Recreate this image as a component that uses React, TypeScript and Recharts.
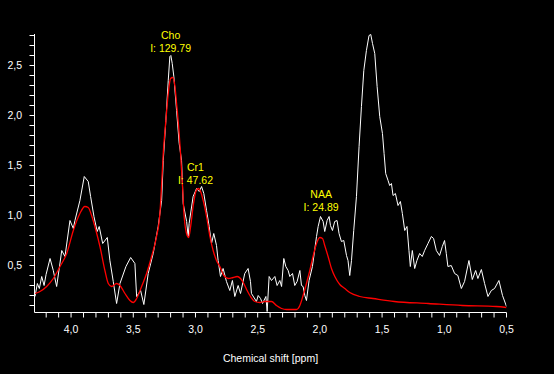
import React from 'react';
import { LineChart, Line, XAxis, YAxis, ReferenceDot } from 'recharts';

const spectrumPpm = [
  4.29, 4.271, 4.255, 4.236, 4.217, 4.201, 4.169, 4.143, 4.116, 4.075, 4.049, 4.009, 3.982, 3.969, 3.929, 3.894,
  3.862, 3.843, 3.816, 3.79, 3.774, 3.746, 3.709, 3.688, 3.661, 3.634, 3.607, 3.559, 3.521, 3.487, 3.473, 3.441,
  3.415, 3.38, 3.34, 3.3, 3.272, 3.259, 3.238, 3.219, 3.206, 3.198, 3.187, 3.174, 3.152, 3.131, 3.112, 3.099,
  3.071, 3.059, 3.051, 3.019, 2.991, 2.97, 2.951, 2.933, 2.911, 2.89, 2.871, 2.853, 2.831, 2.818, 2.799, 2.778,
  2.751, 2.724, 2.703, 2.684, 2.657, 2.638, 2.604, 2.577, 2.558, 2.55, 2.51, 2.496, 2.477, 2.461, 2.434, 2.424,
  2.408, 2.389, 2.362, 2.344, 2.322, 2.308, 2.29, 2.274, 2.255, 2.242, 2.22, 2.202, 2.183, 2.161, 2.148, 2.135,
  2.121, 2.108, 2.087, 2.06, 2.027, 2.014, 1.995, 1.974, 1.961, 1.942, 1.926, 1.915, 1.899, 1.881, 1.862, 1.846,
  1.827, 1.808, 1.786, 1.774, 1.76, 1.746, 1.728, 1.706, 1.685, 1.666, 1.647, 1.626, 1.605, 1.591, 1.577, 1.559,
  1.54, 1.519, 1.497, 1.484, 1.471, 1.452, 1.439, 1.425, 1.412, 1.393, 1.372, 1.353, 1.337, 1.318, 1.3, 1.284,
  1.273, 1.257, 1.238, 1.22, 1.198, 1.177, 1.158, 1.131, 1.104, 1.086, 1.064, 1.038, 1.016, 0.998, 0.984, 0.971,
  0.944, 0.917, 0.891, 0.863, 0.837, 0.802, 0.775, 0.748, 0.73, 0.702, 0.676, 0.649, 0.622, 0.596, 0.561, 0.532,
  0.5,
];
const spectrumIntensity = [
  0.19, 0.32, 0.27, 0.39, 0.3, 0.41, 0.57, 0.45, 0.29, 0.65, 0.59, 0.95, 0.87, 0.95, 1.15, 1.39,
  1.34, 1.19, 0.99, 0.84, 0.89, 0.72, 0.78, 0.55, 0.34, 0.12, 0.32, 0.49, 0.58, 0.52, 0.19, 0.25,
  0.11, 0.42, 0.62, 0.89, 1.15, 1.55, 1.95, 2.35, 2.59, 2.6, 2.52, 2.39, 2.05, 1.72, 1.55, 1.12,
  0.94, 0.79, 0.92, 1.19, 1.27, 1.24, 1.29, 1.22, 1.05, 0.89, 0.72, 0.82, 0.7, 0.55, 0.39, 0.47,
  0.34, 0.25, 0.35, 0.19, 0.3, 0.22, 0.42, 0.47, 0.34, 0.22, 0.14, 0.2, 0.17, 0.12, 0.19, 0.04,
  0.39, 0.35, 0.39, 0.3, 0.35, 0.29, 0.57, 0.49, 0.45, 0.39, 0.42, 0.3, 0.34, 0.45, 0.3, 0.29,
  0.2, 0.15, 0.35, 0.49, 0.79, 0.89, 0.99, 0.94, 0.84, 0.95, 0.99, 0.9, 0.85, 0.94, 0.95, 0.82,
  0.74, 0.75, 0.6, 0.55, 0.4, 0.55, 0.85, 1.19, 1.69, 2.09, 2.45, 2.65, 2.8, 2.81, 2.72, 2.62,
  2.29, 1.99, 1.82, 1.62, 1.42, 1.35, 1.3, 1.32, 1.2, 1.22, 1.1, 1.14, 1.02, 0.85, 0.89, 0.65,
  0.49, 0.65, 0.47, 0.55, 0.62, 0.59, 0.65, 0.72, 0.79, 0.77, 0.65, 0.6, 0.69, 0.75, 0.62, 0.49,
  0.5, 0.42, 0.4, 0.27, 0.34, 0.55, 0.36, 0.45, 0.37, 0.46, 0.32, 0.19, 0.25, 0.27, 0.35, 0.2,
  0.09,
];

const fitPpm = [
  4.29, 4.25, 4.196, 4.143, 4.089, 4.035, 3.982, 3.929, 3.889, 3.862, 3.835, 3.8, 3.768, 3.728, 3.701, 3.674,
  3.634, 3.607, 3.567, 3.527, 3.5, 3.473, 3.433, 3.393, 3.353, 3.313, 3.286, 3.274, 3.259, 3.238, 3.219, 3.2,
  3.184, 3.165, 3.152, 3.133, 3.12, 3.104, 3.091, 3.067, 3.055, 3.039, 3.018, 2.997, 2.978, 2.959, 2.938, 2.911,
  2.884, 2.858, 2.831, 2.804, 2.772, 2.737, 2.697, 2.665, 2.638, 2.612, 2.585, 2.558, 2.523, 2.483, 2.443, 2.389,
  2.349, 2.308, 2.268, 2.188, 2.161, 2.135, 2.108, 2.081, 2.055, 2.027, 2.001, 1.979, 1.961, 1.934, 1.907, 1.88,
  1.84, 1.8, 1.76, 1.68, 1.573, 1.402, 1.129, 0.855, 0.582, 0.5,
];
const fitIntensity = [
  0.22, 0.24, 0.29, 0.37, 0.49, 0.62, 0.85, 1.02, 1.09, 1.08, 1.0, 0.85, 0.69, 0.45, 0.32, 0.29,
  0.32, 0.3, 0.22, 0.15, 0.13, 0.17, 0.29, 0.42, 0.59, 0.79, 1.02, 1.27, 1.62, 1.95, 2.22, 2.37,
  2.38, 2.29, 2.12, 1.85, 1.62, 1.29, 0.99, 0.8, 0.78, 0.89, 1.1, 1.24, 1.27, 1.24, 1.15, 0.99,
  0.79, 0.65, 0.55, 0.49, 0.4, 0.37, 0.38, 0.39, 0.37, 0.32, 0.25, 0.19, 0.14, 0.13, 0.14, 0.14,
  0.1, 0.07, 0.06, 0.06, 0.1, 0.2, 0.32, 0.45, 0.59, 0.72, 0.78, 0.77, 0.7, 0.59, 0.47, 0.39,
  0.31, 0.27, 0.23, 0.19, 0.17, 0.14, 0.12, 0.1, 0.09, 0.08,
];

const xTicks = [
  0.5, 0.6, 0.7, 0.8, 0.9, 1.0, 1.1, 1.2, 1.3, 1.4, 1.5, 1.6, 1.7, 1.8, 1.9, 2.0, 2.1, 2.2, 2.3,
  2.4, 2.5, 2.6, 2.7, 2.8, 2.9, 3.0, 3.1, 3.2, 3.3, 3.4, 3.5, 3.6, 3.7, 3.8, 3.9, 4.0, 4.1, 4.2,
];
const yTicks = [
  0.1, 0.2, 0.3, 0.4, 0.5, 0.6, 0.7, 0.8, 0.9, 1.0, 1.1, 1.2, 1.3, 1.4, 1.5, 1.6, 1.7, 1.8, 1.9,
  2.0, 2.1, 2.2, 2.3, 2.4, 2.5, 2.6, 2.7, 2.8,
];

const peakNames = ['Cho', 'Cr1', 'NAA'];
const peakIntegrals = ['129.79', '47.62', '24.89'];
const peakPpm = [3.2, 3.0, 1.99];
const peakLabelLevel = [2.67, 1.35, 1.08];

const spectrumData = spectrumPpm.map((p, i) => ({ ppm: p, v: spectrumIntensity[i] }));
const fitData = fitPpm.map((p, i) => ({ ppm: p, v: fitIntensity[i] }));

const FONT = '"Liberation Sans", Arial, Helvetica, sans-serif';
const FS = 10.5;

const isMajor = (v: number) => Math.abs(v * 2 - Math.round(v * 2)) < 1e-6;
const fmt = (v: number) => v.toFixed(1).replace('.', ',');

const XTick = (props: any) => {
  const { x, y, payload } = props;
  const v = Number(payload.value);
  if (!isMajor(v)) return <g />;
  return (
    <text x={x} y={y + 13} textAnchor="middle" fill="#ffffff" fontFamily={FONT} fontSize={FS}>
      {fmt(v)}
    </text>
  );
};

const YTick = (props: any) => {
  const { x, y, payload } = props;
  const v = Number(payload.value);
  if (!isMajor(v)) return <g />;
  return (
    <text x={x} y={y + 3.7} textAnchor="end" fill="#ffffff" fontFamily={FONT} fontSize={FS}>
      {fmt(v)}
    </text>
  );
};

const XTitle = (props: any) => {
  const vb = props.viewBox || { x: 34.5, y: 312.5, width: 472, height: 61.5 };
  return (
    <text
      x={vb.x + vb.width / 2}
      y={vb.y + 49}
      textAnchor="middle"
      fill="#ffffff"
      fontFamily={FONT}
      fontSize={FS}
    >
      Chemical shift [ppm]
    </text>
  );
};

const makePeakShape = (i: number) => (p: any) => (
  <g>
    <text x={p.cx} y={p.cy - 9.8} textAnchor="middle" fill="#ffff00" fontFamily={FONT} fontSize={FS}>
      {peakNames[i]}
    </text>
    <text x={p.cx} y={p.cy + 3.7} textAnchor="middle" fill="#ffff00" fontFamily={FONT} fontSize={FS}>
      {'I: ' + peakIntegrals[i]}
    </text>
  </g>
);

export default function App() {
  return (
    <div style={{ position: 'absolute', left: 0, top: 0, width: 554, height: 374, background: '#000000' }}>
      <LineChart width={554} height={374} margin={{ top: 34, right: 47.5, bottom: 0, left: 0 }}>
        <XAxis
          type="number"
          dataKey="ppm"
          domain={[0.5, 4.294]}
          reversed
          allowDataOverflow
          ticks={xTicks}
          interval={0}
          tickSize={5}
          tickMargin={2}
          height={61.5}
          axisLine={{ stroke: '#ffffff', strokeWidth: 1 }}
          tickLine={{ stroke: '#ffffff', strokeWidth: 1 }}
          tick={<XTick />}
          label={<XTitle />}
        />
        <YAxis
          type="number"
          domain={[0.03, 2.815]}
          allowDataOverflow
          ticks={yTicks}
          interval={0}
          tickSize={5}
          tickMargin={7.5}
          width={34.5}
          axisLine={{ stroke: '#ffffff', strokeWidth: 1 }}
          tickLine={{ stroke: '#ffffff', strokeWidth: 1 }}
          tick={<YTick />}
        />
        <Line
          data={spectrumData}
          dataKey="v"
          type="linear"
          stroke="#ffffff"
          strokeWidth={1}
          dot={false}
          isAnimationActive={false}
        />
        <Line
          data={fitData}
          dataKey="v"
          type="monotone"
          stroke="#ff0000"
          strokeWidth={1.3}
          dot={false}
          isAnimationActive={false}
        />
        {peakNames.map((n, i) => (
          <ReferenceDot
            key={n}
            x={peakPpm[i]}
            y={peakLabelLevel[i]}
            r={0}
            ifOverflow="visible"
            shape={makePeakShape(i)}
          />
        ))}
      </LineChart>
    </div>
  );
}
